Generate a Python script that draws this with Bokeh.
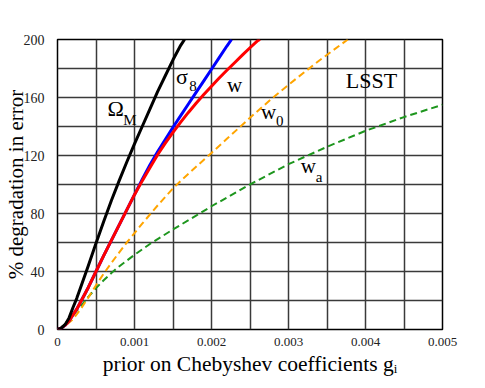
from bokeh.plotting import figure
from bokeh.models import Label, FixedTicker, Range1d
from bokeh.embed import file_html
from bokeh.resources import INLINE

# ---- data ----
omega_x = [0, 0.00005, 0.0001, 0.00015, 0.0002, 0.00025, 0.0003, 0.0004, 0.0005, 0.0006, 0.0007,
           0.0008, 0.0009, 0.001, 0.0011, 0.0012, 0.0013, 0.0014, 0.0015, 0.0016, 0.00165]
omega_y = [0, 1, 3.5, 8, 15, 21.5, 29, 44, 59.5, 74.5, 89, 102.5, 115.5, 128, 140, 152, 164, 175, 186, 196, 200]

sigma_x = [0, 0.00005, 0.0001, 0.00015, 0.0002, 0.00025, 0.0003, 0.0004, 0.0005, 0.0006, 0.0007,
           0.0008, 0.0009, 0.001, 0.0011, 0.0012, 0.0013, 0.0014, 0.0015, 0.0016, 0.0017,
           0.0018, 0.0019, 0.002, 0.0021, 0.0022, 0.00226]
sigma_y = [0, 1, 3, 6, 10, 14, 19, 29, 40, 51, 61.5, 72, 82.5, 93, 103.5, 113.5, 122.5, 131, 139.5,
           147.5, 155.5, 163.5, 171.5, 179.5, 187.5, 195.5, 200]

w_x = [0, 0.00005, 0.0001, 0.00015, 0.0002, 0.00025, 0.0003, 0.0004, 0.0005, 0.0006, 0.0007,
       0.0008, 0.0009, 0.001, 0.0011, 0.0012, 0.0013, 0.0014, 0.0015, 0.0016, 0.0017, 0.0018,
       0.0019, 0.002, 0.0021, 0.0022, 0.0023, 0.0024, 0.0025, 0.0026, 0.00263]
w_y = [0, 1, 3, 6, 10, 14, 19, 29, 40, 51, 61.5, 72, 82.5, 93, 102.5, 111.5, 120.5, 128.5, 136,
       143, 149.7, 156, 162, 167.8, 173.4, 178.8, 184, 189.2, 194.3, 199.2, 200]

w0_x = [0, 0.00005, 0.0001, 0.0002, 0.0003, 0.0004, 0.0005, 0.0006, 0.0007, 0.0008, 0.0009,
        0.001, 0.0011, 0.0012, 0.0013, 0.0014, 0.0015, 0.0016, 0.0018, 0.002, 0.0022, 0.0025,
        0.0028, 0.0031, 0.0034, 0.00377]
w0_y = [0, 1, 2.5, 7, 14, 22, 30.5, 38.5, 46, 53, 60, 66.5, 73, 79.3, 85.5, 91.5, 97.3, 102.5, 112.2,
        121.8, 131.5, 146, 160, 173, 185.5, 200]

wa_x = [0, 0.00005, 0.0001, 0.00015, 0.0002, 0.0003, 0.0004, 0.0005, 0.0006, 0.0007, 0.0008,
        0.001, 0.0012, 0.0015, 0.0018, 0.002, 0.0025, 0.003, 0.0035, 0.004, 0.0045, 0.005]
wa_y = [0, 1.5, 4, 7, 10, 16, 22.5, 28.5, 34, 39, 43.5, 51.5, 59, 69, 78.5, 85, 100, 114, 126, 137,
        146.5, 155]

x_ticks = [0, 0.001, 0.002, 0.003, 0.004, 0.005]
x_tick_labels = ["0", "0.001", "0.002", "0.003", "0.004", "0.005"]
x_minor = [0.0005, 0.0015, 0.0025, 0.0035, 0.0045]
y_ticks = [0, 40, 80, 120, 160, 200]
y_minor = [20, 60, 100, 140, 180]

FONT = "Liberation Serif"

p = figure(width=485, height=388, output_backend="svg", toolbar_location=None,
           x_range=Range1d(0, 0.005), y_range=Range1d(0, 200),
           min_border_left=56, min_border_right=43, min_border_top=39, min_border_bottom=59)
p.background_fill_color = "white"
p.border_fill_color = "white"
p.outline_line_color = "black"
p.outline_line_width = 1.5

p.xaxis.ticker = FixedTicker(ticks=x_ticks, minor_ticks=x_minor)
p.yaxis.ticker = FixedTicker(ticks=y_ticks, minor_ticks=y_minor)
p.xaxis.major_label_overrides = {t: s for t, s in zip(x_ticks, x_tick_labels)}
for ax in (p.xaxis, p.yaxis):
    ax.axis_line_color = None
    ax.major_tick_line_color = None
    ax.minor_tick_line_color = None
    ax.major_label_text_font = FONT
    ax.major_label_text_color = "#222222"
    ax.axis_label_text_font = FONT
    ax.axis_label_text_font_style = "normal"
    ax.axis_label_text_color = "black"
p.xaxis.major_label_text_font_size = "13px"
p.yaxis.major_label_text_font_size = "14px"
p.xaxis.major_label_standoff = 2
p.yaxis.major_label_standoff = 7
p.xaxis.axis_label = "prior on Chebyshev coefficients g\u1d62"
p.yaxis.axis_label = "% degradation in error"
p.xaxis.axis_label_text_font_size = "21.5px"
p.yaxis.axis_label_text_font_size = "21px"
p.xaxis.axis_label_standoff = 3
p.yaxis.axis_label_standoff = -7

for g in (p.xgrid, p.ygrid):
    g.grid_line_color = "#3a3a3a"
    g.grid_line_width = 1.5
    g.minor_grid_line_color = "#3a3a3a"
    g.minor_grid_line_width = 1.5

# curves
p.line(wa_x, wa_y, line_color="#1e961e", line_width=2, line_dash="7 4")
p.line(w0_x, w0_y, line_color="#ffa500", line_width=2, line_dash="7 4")
p.line(sigma_x, sigma_y, line_color="#0000ff", line_width=3, line_join="round")
p.line(w_x, w_y, line_color="#ff0000", line_width=3, line_join="round")
p.line(omega_x, omega_y, line_color="black", line_width=3, line_join="round")

def lab(x, y, t, size, **kw):
    p.add_layout(Label(x=x, y=y, text=t, text_font=FONT, text_font_size=size,
                       text_color="black", text_baseline="alphabetic", **kw))

# curve labels
lab(0.000648, 152.4, "\u03a9", "22px")
lab(0.000855, 144.8, "M", "15px")
lab(0.00154, 174.8, "\u03c3", "22px")
lab(0.00171, 168.2, "8", "15px")
lab(0.0022, 168.8, "w", "21px")
lab(0.002642, 150.3, "w", "21px")
lab(0.002837, 144.1, "0", "15px")
lab(0.00316, 113.1, "w", "21px")
lab(0.003355, 105.5, "a", "15px")
lab(0.003744, 171.7, "LSST", "22px")

open("out.html", "w").write(file_html(p, INLINE))
